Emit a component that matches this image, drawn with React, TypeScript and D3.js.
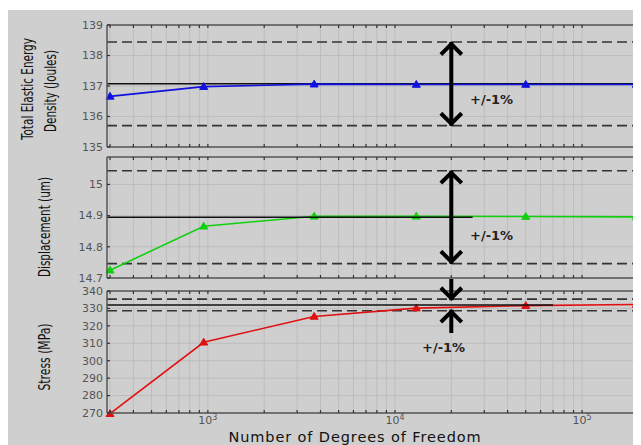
import React from 'react';
import * as d3 from 'd3';

// mesh convergence study: three stacked panels sharing a log x axis
const dofs = [300, 950, 3700, 13000, 50000, 195000];
const energy = [136.66, 136.98, 137.06, 137.05, 137.05, 137.05];
const displacement = [14.725, 14.866, 14.898, 14.898, 14.897, 14.896];
const stress = [269.6, 310.6, 325.4, 330.2, 331.6, 332.3];

const energyTicks = [135, 136, 137, 138, 139];
const dispTicks = [14.7, 14.8, 14.9, 15];
const stressTicks = [270, 280, 290, 300, 310, 320, 330, 340];
const xLabels = [1000, 10000, 100000];

const refEnergy = 137.07;
const refDisp = 14.895;
const refStress = 332;
const tolerance = 0.01;

const W = 641;
const H = 445;
const left = 107;
const right = 640;
const bg = '#cfcfcf';

const x = d3.scaleLog().domain([289, 204000]).range([left, right]);
const xTicks = x.ticks();

const panels = [
  {key: 'e', top: 25, bottom: 147, domain: [135, 139], ticks: energyTicks, data: energy, color: '#1010e0',
    ref: refEnergy, refEnd: 204000, refOnTop: false, title: ['Total Elastic Energy', 'Density (Joules)'], fmt: (d: number) => String(d)},
  {key: 'd', top: 157, bottom: 278, domain: [14.7, 15.088], ticks: dispTicks, data: displacement, color: '#10d010',
    ref: refDisp, refEnd: 26000, refOnTop: true, title: ['Displacement (um)'], fmt: (d: number) => String(d)},
  {key: 's', top: 291, bottom: 413, domain: [270, 340], ticks: stressTicks, data: stress, color: '#e01010',
    ref: refStress, refEnd: 70000, refOnTop: true, title: ['Stress (MPa)'], fmt: (d: number) => String(d)},
];

// title placement (rotated text): centre x per line, centre y, squeezed length
const titleX = [[28, 51], [45], [45]];
const titleY = [[89, 91], [227], [357]];
const titleLen = [[102, 82], [100], [67]];

const Arrow = ({x0, y0, y1, head0, head1}: {x0: number; y0: number; y1: number; head0: boolean; head1: boolean}) => {
  const hw = 9, hh = 9;
  const dir = y1 > y0 ? 1 : -1;
  return (
    <g stroke="#000" strokeWidth={4} fill="none" strokeLinecap="square">
      <line x1={x0} y1={y0} x2={x0} y2={y1} />
      {head1 && <path d={`M${x0 - hw},${y1 - dir * hh}L${x0},${y1}L${x0 + hw},${y1 - dir * hh}`} strokeLinejoin="miter" />}
      {head0 && <path d={`M${x0 - hw},${y0 + dir * hh}L${x0},${y0}L${x0 + hw},${y0 + dir * hh}`} strokeLinejoin="miter" />}
    </g>
  );
};

const tri = (cx: number, cy: number, r = 4) => `M${cx},${cy - r}L${cx + r},${cy + r * 0.7}L${cx - r},${cy + r * 0.7}Z`;

const Panel = ({p, i}: {p: typeof panels[number]; i: number}) => {
  const y = d3.scaleLinear().domain(p.domain).range([p.bottom, p.top]);
  const line = d3.line<number>().x((_, j) => x(dofs[j])).y(d => y(d));
  const refLine = (
    <line x1={left} x2={x(p.refEnd)} y1={y(p.ref)} y2={y(p.ref)} stroke="#111" strokeWidth={1.5} />
  );
  const fontTick = {fontFamily: 'DejaVu Sans, sans-serif', fontSize: 11, fill: '#555'};
  return (
    <g>
      {/* grid */}
      {xTicks.map(t => (
        <line key={'gx' + t} x1={x(t)} x2={x(t)} y1={p.top} y2={p.bottom} stroke="#bdbdbd" strokeWidth={1} />
      ))}
      {p.ticks.map(t => (
        <line key={'gy' + t} x1={left} x2={right} y1={y(t)} y2={y(t)} stroke="#bdbdbd" strokeWidth={1} />
      ))}
      {/* tolerance band */}
      {[1 + tolerance, 1 - tolerance].map(f => (
        <line key={f} x1={left} x2={right} y1={y(p.ref * f)} y2={y(p.ref * f)} stroke="#333" strokeWidth={1.6} strokeDasharray="10,5" />
      ))}
      {!p.refOnTop && refLine}
      <path d={line(p.data) || ''} fill="none" stroke={p.color} strokeWidth={1.6} />
      {p.data.map((d, j) => (
        <path key={j} d={tri(x(dofs[j]), y(d))} fill={p.color} stroke={p.color} strokeWidth={1} />
      ))}
      {p.refOnTop && refLine}
      {/* frame */}
      <g stroke="#555" strokeWidth={1.5} fill="none">
        <line x1={left} x2={right} y1={p.top} y2={p.top} />
        <line x1={left} x2={right} y1={p.bottom} y2={p.bottom} />
        <line x1={left} x2={left} y1={p.top} y2={p.bottom} />
      </g>
      {xTicks.map(t => (
        <g key={'tx' + t} stroke="#333" strokeWidth={1.2}>
          <line x1={x(t)} x2={x(t)} y1={p.bottom} y2={p.bottom - 3} />
          <line x1={x(t)} x2={x(t)} y1={p.top} y2={p.top + 3} />
        </g>
      ))}
      {p.ticks.map(t => (
        <g key={'ty' + t}>
          <line x1={left} x2={left + 3} y1={y(t)} y2={y(t)} stroke="#333" strokeWidth={1.2} />
          <line x1={right} x2={right - 3} y1={y(t)} y2={y(t)} stroke="#333" strokeWidth={1.2} />
          <text x={left - 4} y={y(t)} dy="0.35em" textAnchor="end" {...fontTick}>{p.fmt(t)}</text>
        </g>
      ))}
      {/* rotated axis title */}
      {p.title.map((s, k) => (
        <text key={s} transform={`translate(${titleX[i][k]},${titleY[i][k]}) rotate(-90)`} textAnchor="middle" dy="0.35em"
          textLength={titleLen[i][k]} lengthAdjust="spacingAndGlyphs"
          fontFamily="Liberation Sans Narrow, DejaVu Sans Condensed, sans-serif" fontSize={15} fill="#111">{s}</text>
      ))}
    </g>
  );
};

export default function App() {
  const yE = d3.scaleLinear().domain(panels[0].domain).range([panels[0].bottom, panels[0].top]);
  const yD = d3.scaleLinear().domain(panels[1].domain).range([panels[1].bottom, panels[1].top]);
  const yS = d3.scaleLinear().domain(panels[2].domain).range([panels[2].bottom, panels[2].top]);
  const ax = x(20000);
  const label = {fontFamily: 'DejaVu Sans, sans-serif', fontSize: 13, fontWeight: 'bold' as const, fill: '#222'};
  return (
    <svg width={W - 8} height={H - 8} style={{display: 'block'}}>
      <g transform="translate(-8,-8)">
        <rect x={8} y={10} width={W - 8} height={H - 10} fill={bg} />
        {panels.map((p, i) => <Panel key={p.key} p={p} i={i} />)}
        {/* +/-1% annotations */}
        <Arrow x0={ax} y0={yE(refEnergy * 1.01) + 2} y1={yE(refEnergy * 0.99) - 2} head0 head1 />
        <text x={470} y={104} {...label}>+/-1%</text>
        <Arrow x0={ax} y0={yD(refDisp * 1.01) + 2} y1={yD(refDisp * 0.99) - 2} head0 head1 />
        <text x={470} y={240} {...label}>+/-1%</text>
        <Arrow x0={ax} y0={281} y1={yS(refStress * 1.01) - 1} head0={false} head1 />
        <Arrow x0={ax} y0={331} y1={yS(refStress * 0.99) + 1} head0={false} head1 />
        <text x={422} y={352} {...label}>+/-1%</text>
        {/* x axis labels */}
        {xLabels.map(t => (
          <text key={t} x={x(t)} y={424} textAnchor="middle" fontFamily="DejaVu Sans, sans-serif" fontSize={11} fill="#555">
            10<tspan dy={-4} fontSize={8}>{Math.round(Math.log10(t))}</tspan>
          </text>
        ))}
        <text x={355} y={442} textAnchor="middle" fontFamily="DejaVu Sans, sans-serif" fontSize={14.5} letterSpacing={0.9} fill="#111">
          Number of Degrees of Freedom
        </text>
      </g>
    </svg>
  );
}
